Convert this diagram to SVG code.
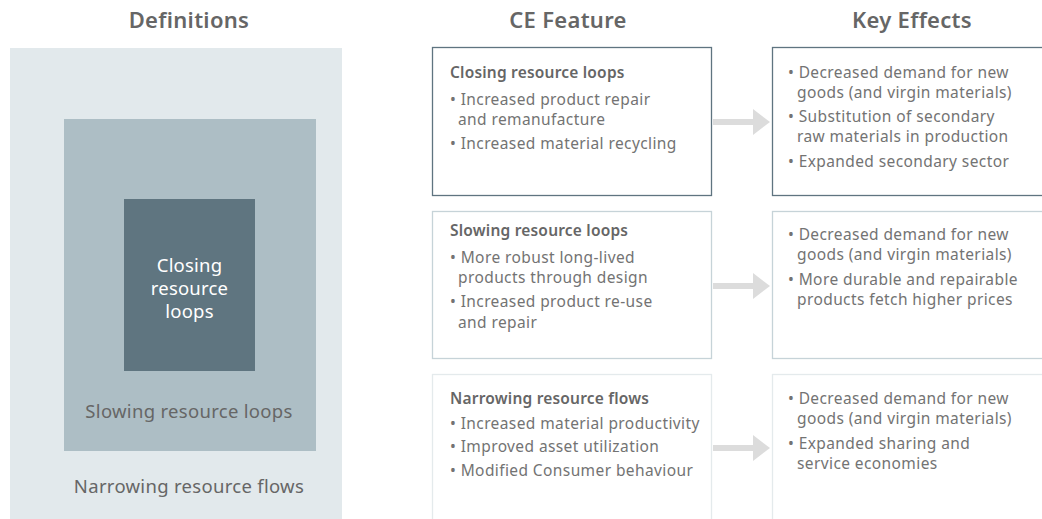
<svg xmlns="http://www.w3.org/2000/svg" width="1042" height="519" viewBox="0 0 1042 519">
  <defs>
    <style>
      .hdr { font-family: "Noto Sans", "Liberation Sans", sans-serif; font-size: 22px; font-weight: 600; fill: #666666; text-anchor: middle; letter-spacing: 0.3px; }
      .ttl { font-family: "Noto Sans", "Liberation Sans", sans-serif; font-size: 15.5px; font-weight: 600; fill: #666666; letter-spacing: 0.2px; }
      .txt { font-family: "Noto Sans", "Liberation Sans", sans-serif; font-size: 15.5px; fill: #737373; letter-spacing: 0.4px; }
      .def { font-family: "Noto Sans", "Liberation Sans", sans-serif; font-size: 18.5px; fill: #666666; text-anchor: middle; letter-spacing: 0.3px; }
      .defw { font-family: "Noto Sans", "Liberation Sans", sans-serif; font-size: 18.5px; fill: #ffffff; text-anchor: middle; letter-spacing: 0.2px; }
      .box { fill: #ffffff; stroke-width: 1.3; }
      .arrow { stroke: #dcdcdc; stroke-width: 6; fill: none; }
      .head { fill: #dcdcdc; }
    </style>
  </defs>

  <!-- column headings -->
  <g id="headings">
    <text class="hdr" x="189" y="28">Definitions</text>
    <text class="hdr" x="568" y="28">CE Feature</text>
    <text class="hdr" x="912" y="28">Key Effects</text>
  </g>

  <!-- nested definitions -->
  <g id="def-narrowing">
    <rect x="10" y="48" width="332" height="471" fill="#e2e9ec"/>
    <text class="def" x="189" y="493">Narrowing resource flows</text>
  </g>
  <g id="def-slowing">
    <rect x="64" y="119" width="252" height="332" fill="#adbec5"/>
    <text class="def" x="189" y="418">Slowing resource loops</text>
  </g>
  <g id="def-closing">
    <rect x="124" y="199" width="131" height="172" fill="#5f7580"/>
    <text class="defw" x="189.5" y="272">Closing</text>
    <text class="defw" x="189.5" y="295">resource</text>
    <text class="defw" x="189.5" y="318">loops</text>
  </g>

  <!-- CE feature boxes -->
  <g id="feature-closing">
    <rect class="box" x="432.5" y="47.5" width="279" height="148" stroke="#5f7480"/>
    <text class="ttl" x="450" y="78">Closing resource loops</text>
    <text class="txt" x="450" y="105">• Increased product repair</text>
    <text class="txt" x="458" y="125">and remanufacture</text>
    <text class="txt" x="450" y="149">• Increased material recycling</text>
  </g>
  <g id="feature-slowing">
    <rect class="box" x="432.5" y="211.5" width="279" height="147" stroke="#c6d3d8"/>
    <text class="ttl" x="450" y="236">Slowing resource loops</text>
    <text class="txt" x="450" y="263">• More robust long-lived</text>
    <text class="txt" x="458" y="283">products through design</text>
    <text class="txt" x="450" y="307">• Increased product re-use</text>
    <text class="txt" x="458" y="328">and repair</text>
  </g>
  <g id="feature-narrowing">
    <rect class="box" x="432.5" y="374.5" width="279" height="160" stroke="#e4eaec"/>
    <text class="ttl" x="450" y="404">Narrowing resource flows</text>
    <text class="txt" x="450" y="429">• Increased material productivity</text>
    <text class="txt" x="450" y="452">• Improved asset utilization</text>
    <text class="txt" x="450" y="476">• Modified Consumer behaviour</text>
  </g>

  <!-- key effect boxes -->
  <g id="effect-closing">
    <rect class="box" x="772.5" y="47.5" width="290" height="148" stroke="#5f7480"/>
    <text class="txt" x="788" y="78">• Decreased demand for new</text>
    <text class="txt" x="797" y="98">goods (and virgin materials)</text>
    <text class="txt" x="788" y="122">• Substitution of secondary</text>
    <text class="txt" x="797" y="142">raw materials in production</text>
    <text class="txt" x="788" y="167">• Expanded secondary sector</text>
  </g>
  <g id="effect-slowing">
    <rect class="box" x="772.5" y="211.5" width="290" height="147" stroke="#c6d3d8"/>
    <text class="txt" x="788" y="240">• Decreased demand for new</text>
    <text class="txt" x="797" y="260">goods (and virgin materials)</text>
    <text class="txt" x="788" y="285">• More durable and repairable</text>
    <text class="txt" x="797" y="305">products fetch higher prices</text>
  </g>
  <g id="effect-narrowing">
    <rect class="box" x="772.5" y="374.5" width="290" height="160" stroke="#e4eaec"/>
    <text class="txt" x="788" y="404">• Decreased demand for new</text>
    <text class="txt" x="797" y="424">goods (and virgin materials)</text>
    <text class="txt" x="788" y="449">• Expanded sharing and</text>
    <text class="txt" x="797" y="469">service economies</text>
  </g>

  <!-- connectors -->
  <g id="connectors">
    <line class="arrow" x1="713" y1="122" x2="754" y2="122"/>
    <polygon class="head" points="753,109 770,122 753,135"/>
    <line class="arrow" x1="713" y1="286" x2="754" y2="286"/>
    <polygon class="head" points="753,273 770,286 753,299"/>
    <line class="arrow" x1="713" y1="448" x2="754" y2="448"/>
    <polygon class="head" points="753,435 770,448 753,461"/>
  </g>
</svg>
